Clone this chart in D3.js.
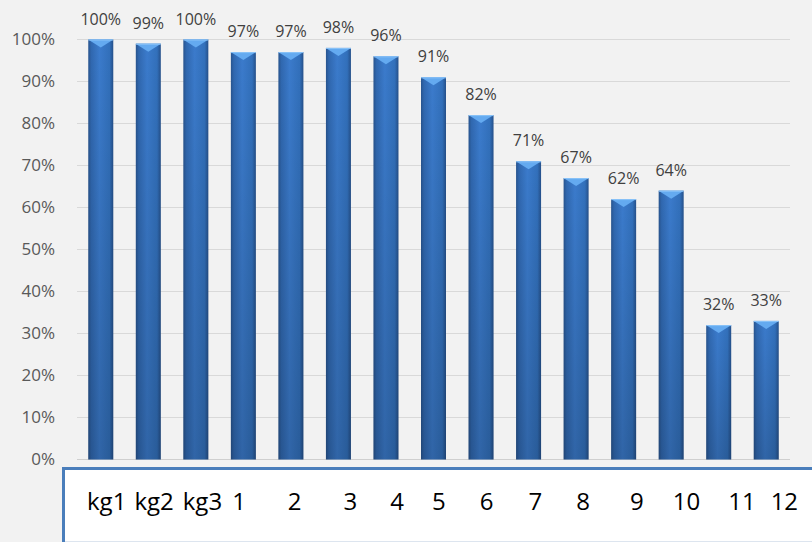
<!DOCTYPE html>
<html>
<head>
<meta charset="utf-8">
<script src="https://cdn.jsdelivr.net/npm/d3@7"></script>
<style>
  body { margin: 0; background: #f2f2f2; }
  svg { display: block; }
</style>
</head>
<body>
<svg id="chart"></svg>
<script>
const width = 812;
const height = 542;

// data
const categories = ["kg1", "kg2", "kg3", "1", "2", "3", "4", "5", "6", "7", "8", "9", "10", "11", "12"];
const values = [1.00, 0.99, 1.00, 0.97, 0.97, 0.98, 0.96, 0.91, 0.82, 0.71, 0.67, 0.62, 0.64, 0.32, 0.33];
const yTicks = [0, 0.1, 0.2, 0.3, 0.4, 0.5, 0.6, 0.7, 0.8, 0.9, 1.0];

// gaps (px) between the labels typed in the text box under the chart
const labelGaps = [0, 8, 9, 10, 42, 42, 33, 28, 34, 35, 34, 40, 29, 28, 15];

const svg = d3.select("#chart").attr("width", width).attr("height", height);

const x = d3.scaleBand()
    .domain(categories)
    .range([77, 790])
    .paddingInner(0.474)
    .paddingOuter(0.237);

const y = d3.scaleLinear()
    .domain([0, 1])
    .range([459.5, 39.5]);

const defs = svg.append("defs");
const grad = defs.append("linearGradient").attr("id", "barGrad")
    .attr("x1", "0").attr("x2", "1").attr("y1", "0").attr("y2", "0");
grad.append("stop").attr("offset", "0%").attr("stop-color", "#28548e");
grad.append("stop").attr("offset", "12%").attr("stop-color", "#3068b0");
grad.append("stop").attr("offset", "45%").attr("stop-color", "#3b7bcc");
grad.append("stop").attr("offset", "85%").attr("stop-color", "#3270bb");
grad.append("stop").attr("offset", "100%").attr("stop-color", "#25508a");

const shade = defs.append("linearGradient").attr("id", "barShade")
    .attr("x1", "0").attr("x2", "0").attr("y1", "0").attr("y2", "1");
shade.append("stop").attr("offset", "0%").attr("stop-color", "#000").attr("stop-opacity", 0);
shade.append("stop").attr("offset", "100%").attr("stop-color", "#000").attr("stop-opacity", 0.18);

// gridlines
svg.append("g")
    .selectAll("line")
    .data(yTicks)
    .enter()
    .append("line")
    .attr("x1", 77)
    .attr("x2", 790)
    .attr("y1", d => y(d))
    .attr("y2", d => y(d))
    .style("stroke", d => d === 0 ? "#cfcfcf" : "#d9d9d9")
    .style("stroke-width", "1px");

// y axis labels
svg.append("g")
    .selectAll("text")
    .data(yTicks)
    .enter()
    .append("text")
    .attr("x", 55)
    .attr("y", d => y(d))
    .attr("dy", "0.35em")
    .attr("text-anchor", "end")
    .style("font-family", "'Open Sans', sans-serif")
    .style("font-size", "17px")
    .style("fill", "#595959")
    .text(d3.format(".0%"));

// bars
const bars = svg.append("g")
    .selectAll("g")
    .data(values)
    .enter()
    .append("g");

bars.append("rect")
    .attr("x", (d, i) => x(categories[i]))
    .attr("y", d => y(d))
    .attr("width", x.bandwidth())
    .attr("height", d => y(0) - y(d))
    .style("fill", "url(#barGrad)");

bars.append("rect")
    .attr("x", (d, i) => x(categories[i]))
    .attr("y", d => y(d))
    .attr("width", x.bandwidth())
    .attr("height", d => y(0) - y(d))
    .style("fill", "url(#barShade)");

// bevel at top of each bar
bars.append("path")
    .attr("d", (d, i) => {
        const x0 = x(categories[i]);
        const x1 = x0 + x.bandwidth();
        const t = y(d);
        const cx = (x0 + x1) / 2;
        return `M${x0},${t}L${x1},${t}L${x1 - 3},${t + 2}L${cx},${t + 8}L${x0 + 3},${t + 2}Z`;
    })
    .style("fill", "#64aaf0");

bars.append("line")
    .attr("x1", (d, i) => x(categories[i]))
    .attr("x2", (d, i) => x(categories[i]) + x.bandwidth())
    .attr("y1", d => y(d) + 0.5)
    .attr("y2", d => y(d) + 0.5)
    .style("stroke", "#8cc4f8")
    .style("stroke-width", "1px");

// value labels
bars.append("text")
    .attr("x", (d, i) => x(categories[i]) + x.bandwidth() / 2)
    .attr("y", d => y(d) - 15)
    .attr("text-anchor", "middle")
    .style("font-family", "'Open Sans', sans-serif")
    .style("font-size", "16px")
    .style("fill", "#404040")
    .text(d3.format(".0%"));

// text box with category names
svg.append("rect")
    .attr("x", 63.5)
    .attr("y", 468.5)
    .attr("width", 800)
    .attr("height", 100)
    .style("fill", "#ffffff")
    .style("stroke", "#4a7ebb")
    .style("stroke-width", "3px");

svg.append("line")
    .attr("x1", 65)
    .attr("x2", 812)
    .attr("y1", 541.5)
    .attr("y2", 541.5)
    .style("stroke", "#dde5ef")
    .style("stroke-width", "1px");

const boxText = svg.append("text")
    .attr("x", 87)
    .attr("y", 510)
    .style("font-family", "'Open Sans', sans-serif")
    .style("font-size", "24px")
    .style("fill", "#000000");

boxText.selectAll("tspan")
    .data(categories)
    .enter()
    .append("tspan")
    .attr("dx", (d, i) => labelGaps[i])
    .text(d => d);
</script>
</body>
</html>
